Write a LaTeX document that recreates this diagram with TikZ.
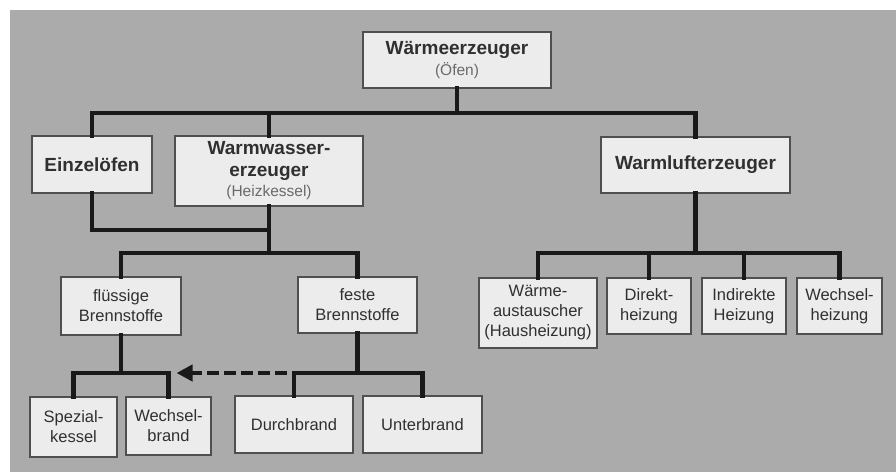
\documentclass[tikz,border=0pt]{standalone}
\usepackage{fontspec}
\setmainfont{Liberation Sans}
\usetikzlibrary{arrows.meta, calc, positioning}
\definecolor{plategray}{HTML}{ABABAB}
\definecolor{boxfill}{HTML}{ECECEC}
\definecolor{inkgray}{HTML}{303030}
\definecolor{notegray}{HTML}{6A6A6A}

\newcommand{\notetext}[1]{{\color{notegray}\mdseries\fontsize{15.5}{18}\selectfont #1}}

\begin{document}
\begin{tikzpicture}[
        x=1pt,
        y=-1pt,
        heatbox/.style={
            draw=inkgray!85,
            line width=1.4pt,
            fill=boxfill,
            text=inkgray,
            inner sep=0pt,
            align=center
        },
        mainbox/.style={
            heatbox,
            font=\fontsize{19}{24}\selectfont\bfseries
        },
        subbox/.style={
            heatbox,
            font=\fontsize{16.5}{20}\selectfont
        },
        trunk/.style={
            draw=black!90,
            line width=4.6pt,
            line cap=rect
        },
        dashlink/.style={
            draw=black!90,
            line width=4.4pt,
            dash pattern=on 12pt off 5pt,
            -{Triangle[length=16pt, width=16pt]}
        }
    ]

        % Rahmen
        \fill[white] (0,0) rectangle (896,472);
        \fill[plategray] (10,10) rectangle (896,472);

        % Ebene 1
        \node[mainbox, minimum width=188, minimum height=56] (ofen) at (457,60)
            {W\"armeerzeuger\\[-3pt]\notetext{(\"Ofen)}};

        % Ebene 2
        \node[mainbox, minimum width=120, minimum height=57] (einzel) at (92,164.5)
            {Einzel\"ofen};
        \node[mainbox, minimum width=188, minimum height=70] (warmwasser) at (269,171)
            {Warmwasser-\\[-2pt]erzeuger\\[-4pt]\notetext{(Heizkessel)}};
        \node[mainbox, minimum width=189, minimum height=56] (warmluft) at (695.5,165)
            {Warmlufterzeuger};

        % Ebene 3: Brennstoffe
        \node[subbox, minimum width=120, minimum height=58] (fluessig) at (121,306)
            {fl\"ussige\\Brennstoffe};
        \node[subbox, minimum width=119, minimum height=56] (fest) at (357.5,305)
            {feste\\Brennstoffe};

        % Ebene 3: Heizungsarten
        \node[subbox, minimum width=118, minimum height=70] (waerme) at (538,313)
            {W\"arme-\\austauscher\\(Hausheizung)};
        \node[subbox, minimum width=84, minimum height=56] (direkt) at (649,306)
            {Direkt-\\heizung};
        \node[subbox, minimum width=84, minimum height=56] (indirekt) at (744,306)
            {Indirekte\\Heizung};
        \node[subbox, minimum width=85, minimum height=56] (wechselheiz) at (839.5,306)
            {Wechsel-\\heizung};

        % Ebene 4: Kessel
        \node[subbox, minimum width=87, minimum height=60] (spezial) at (73.5,427)
            {Spezial-\\kessel};
        \node[subbox, minimum width=85, minimum height=58] (wechselbrand) at (168.5,426)
            {Wechsel-\\brand};
        \node[subbox, minimum width=118, minimum height=57] (durch) at (294,424.5)
            {Durchbrand};
        \node[subbox, minimum width=119, minimum height=57] (unter) at (422.5,424.5)
            {Unterbrand};

        % Sammelschienen
        \coordinate (topbus) at (457,113);
        \coordinate (kesselbus) at (269,230);
        \coordinate (stoffbus) at (269,253);
        \coordinate (luftbus) at (695.5,253);
        \coordinate (fluessigbus) at (121,373);
        \coordinate (festbus) at (357.5,373);

        % Verbindungen
        \draw[trunk] (ofen.south) -- (topbus);
        \draw[trunk] (einzel.north) |- (topbus) -| (warmluft.north);
        \draw[trunk] (topbus) -| (warmwasser.north);

        \draw[trunk] (einzel.south) |- (kesselbus);
        \draw[trunk] (warmwasser.south) -- (stoffbus);
        \draw[trunk] (fluessig.north) |- (stoffbus) -| (fest.north);

        \draw[trunk] (warmluft.south) -- (luftbus);
        \draw[trunk] (waerme.north) |- (luftbus) -| (wechselheiz.north);
        \draw[trunk] (direkt.north) -- (direkt.north |- luftbus);
        \draw[trunk] (indirekt.north) -- (indirekt.north |- luftbus);

        \draw[trunk] (fluessig.south) -- (fluessigbus);
        \draw[trunk] (spezial.north) |- (fluessigbus) -| (wechselbrand.north);
        \draw[trunk] (fest.south) -- (festbus);
        \draw[trunk] (durch.north) |- (festbus) -| (unter.north);

        % Umstellung fest -> fluessig
        \coordinate (umstellstart) at ($(durch.north |- festbus)+(-7,0)$);
        \coordinate (umstellziel) at ($(wechselbrand.north |- fluessigbus)+(8,0)$);
        \draw[dashlink] (umstellstart) -- (umstellziel);

    \end{tikzpicture}
\end{document}
